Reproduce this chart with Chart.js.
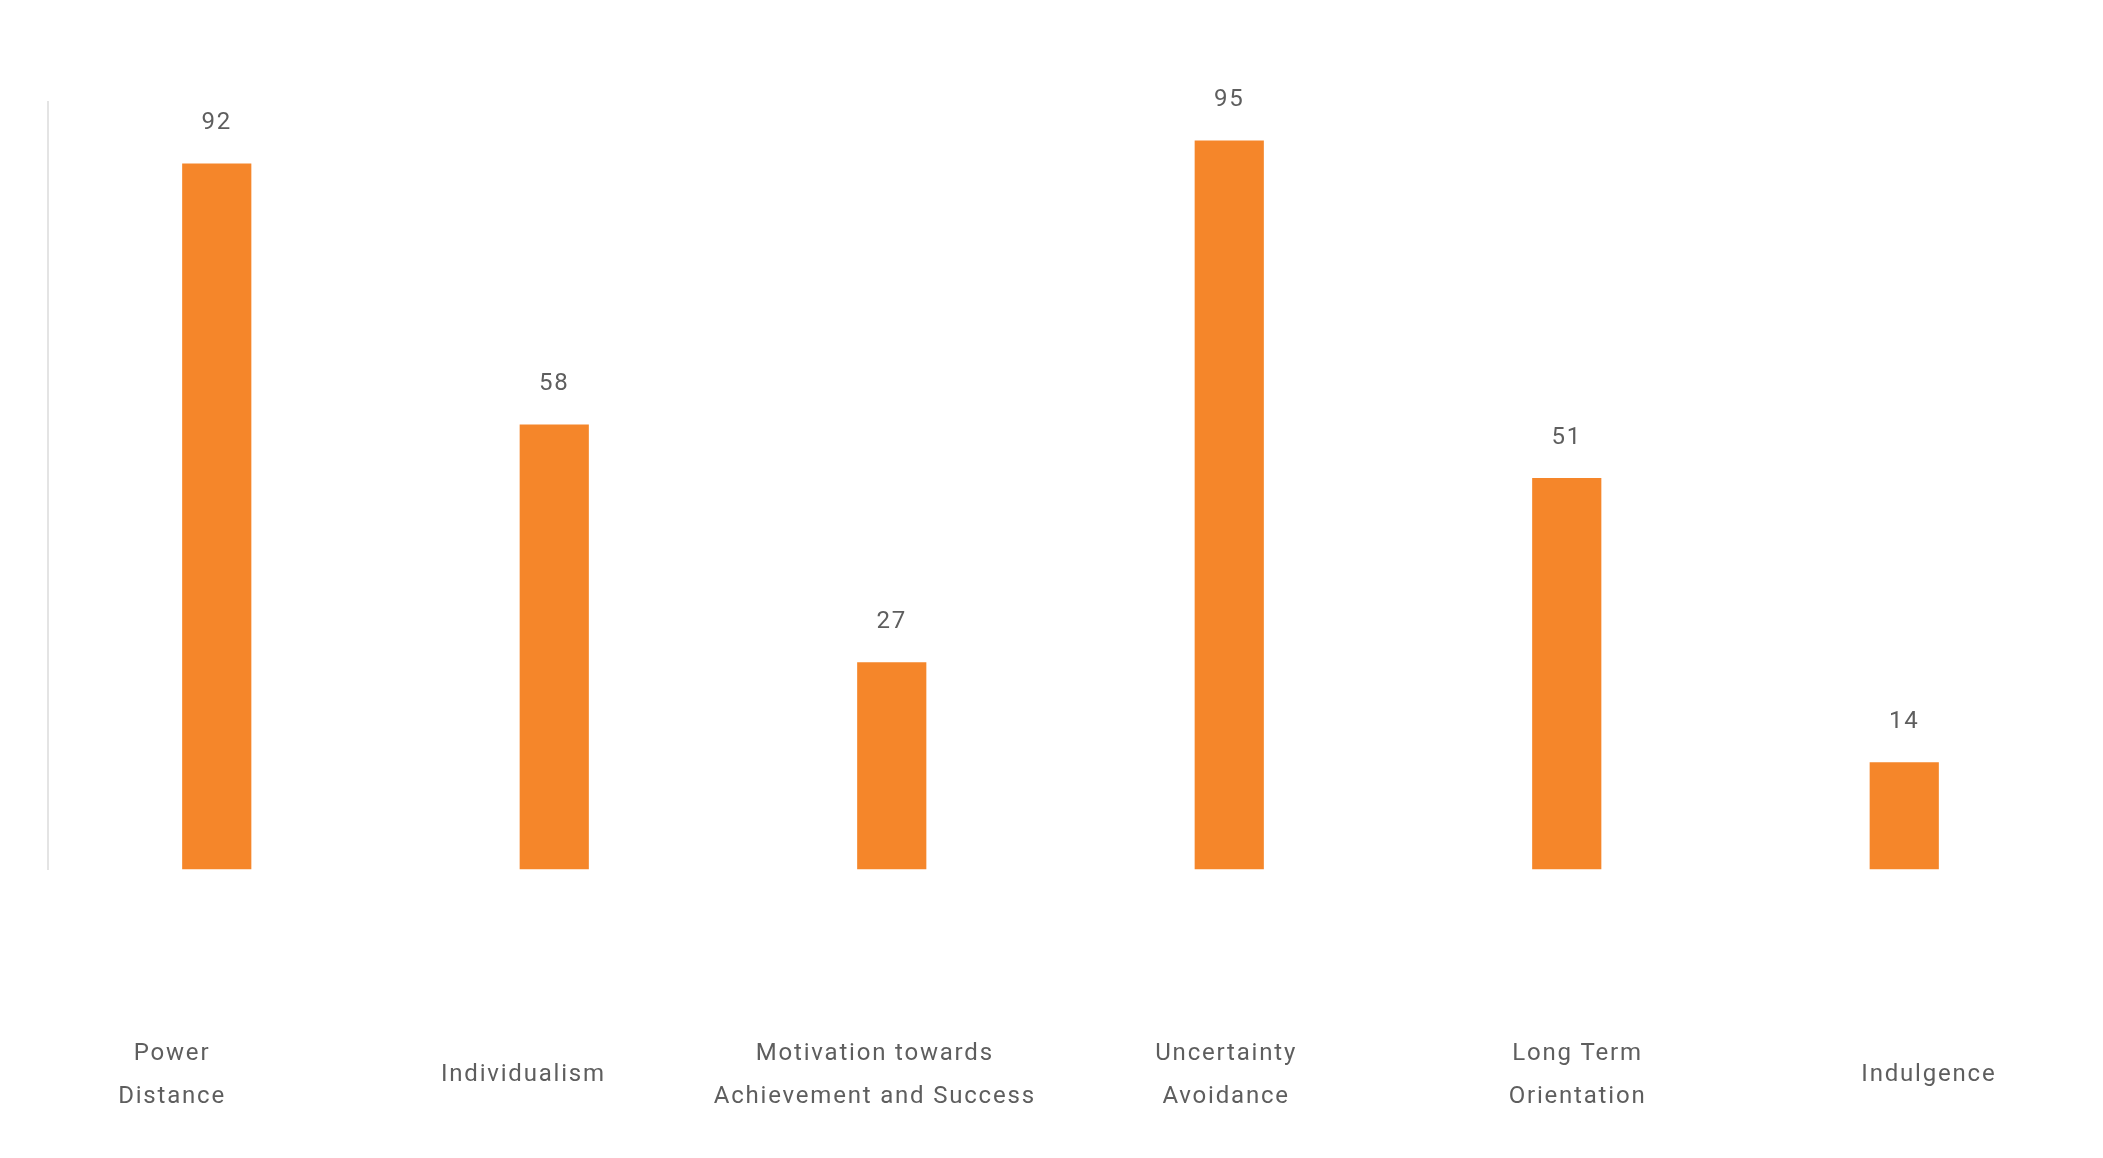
<!DOCTYPE html>
<html>
<head>
<meta charset="utf-8">
<script src="https://cdn.jsdelivr.net/npm/chart.js@4"></script>
<style>
  html, body { margin: 0; padding: 0; background: #fff; overflow: hidden; }
  #scoreChart { display: block; width: 2103px; height: 1158px; }
</style>
</head>
<body>
<canvas id="scoreChart" width="2103" height="1158"></canvas>
<script>
const categories = [
  ['Power', 'Distance'],
  'Individualism',
  ['Motivation towards', 'Achievement and Success'],
  ['Uncertainty', 'Avoidance'],
  ['Long Term', 'Orientation'],
  'Indulgence'
];
const scores = [92, 58, 27, 95, 51, 14];

const textColor = '#5e5e5e';
const spacing = '1.8px';

// the reference type is spaced out a bit, canvas resets this on resize
const letterSpacing = {
  id: 'letterSpacing',
  beforeLayout(chart) { chart.ctx.letterSpacing = spacing; },
  beforeDraw(chart) { chart.ctx.letterSpacing = spacing; }
};

// value text above each bar, placed from the bar elements
const valueLabels = {
  id: 'valueLabels',
  afterDatasetsDraw(chart) {
    const ctx = chart.ctx;
    ctx.save();
    ctx.letterSpacing = spacing;
    ctx.font = '24px Roboto, sans-serif';
    ctx.fillStyle = textColor;
    ctx.textAlign = 'center';
    ctx.textBaseline = 'middle';
    chart.getDatasetMeta(0).data.forEach((bar, i) => {
      ctx.fillText(scores[i], bar.x, bar.y - 40);
    });
    ctx.restore();
  }
};

const ctx = document.getElementById('scoreChart').getContext('2d');
new Chart(ctx, {
  type: 'bar',
  data: {
    labels: categories,
    datasets: [{
      data: scores,
      backgroundColor: '#f5862a',
      categoryPercentage: 1,
      barPercentage: 0.205
    }]
  },
  options: {
    responsive: false,
    animation: false,
    layout: { padding: { left: 48, right: 30, top: 102, bottom: 3 } },
    plugins: {
      legend: { display: false },
      tooltip: { enabled: false }
    },
    scales: {
      x: {
        // hidden tick marks give the big gap under the bars
        grid: { display: false, drawTicks: true, tickLength: 169 },
        border: { display: false },
        ticks: { display: false }
      },
      // category names sit on their own evenly spread row, not under the bars
      names: {
        type: 'linear',
        position: 'bottom',
        weight: 1,
        offset: false,
        min: -0.353,
        max: 5.41,
        afterBuildTicks: scale => {
          scale.ticks = categories.map((c, i) => ({ value: i }));
        },
        grid: { display: false, drawTicks: false },
        border: { display: false },
        ticks: {
          padding: 15,
          crossAlign: 'center',
          maxRotation: 0,
          autoSkip: false,
          color: textColor,
          font: { family: 'Roboto, sans-serif', size: 24, lineHeight: 1.8 },
          callback: v => categories[v]
        }
      },
      y: {
        min: 0,
        max: 100,
        grid: { display: false, drawTicks: false },
        border: { display: true, color: '#e4e4e4', width: 2 },
        ticks: { display: false }
      }
    }
  },
  plugins: [letterSpacing, valueLabels]
});
</script>
</body>
</html>
